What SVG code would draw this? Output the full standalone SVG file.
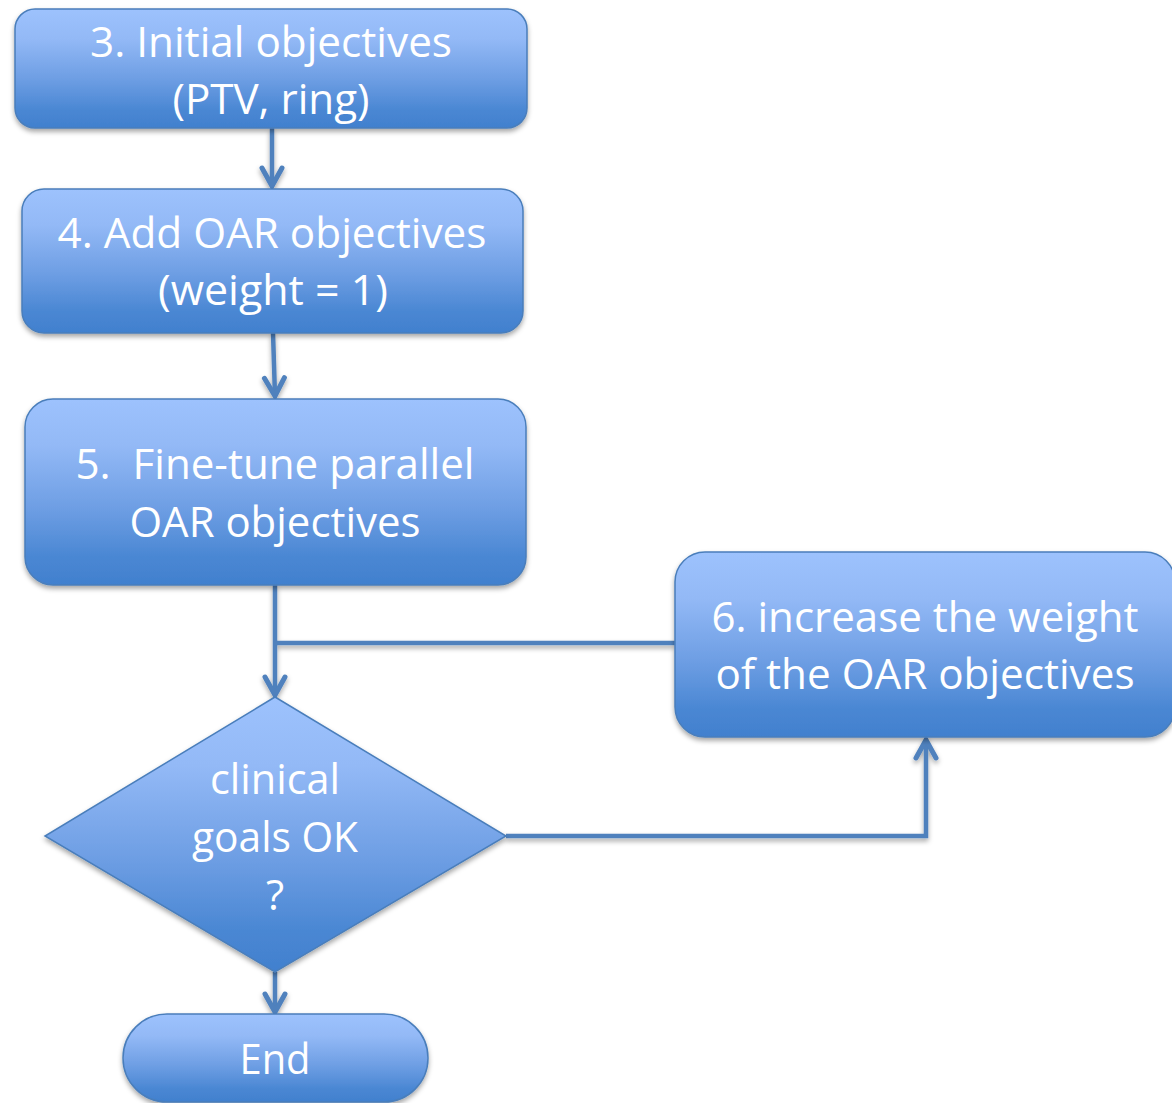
<svg xmlns="http://www.w3.org/2000/svg" width="1172" height="1103" viewBox="0 0 1172 1103">
<defs>
<linearGradient id="g" x1="0" y1="0" x2="0" y2="1">
<stop offset="0" stop-color="#9DC2FD"/>
<stop offset="0.25" stop-color="#93B9F6"/>
<stop offset="0.6" stop-color="#6C9DE3"/>
<stop offset="0.85" stop-color="#4A87D3"/>
<stop offset="1" stop-color="#4180CE"/>
</linearGradient>
<filter id="sh" x="-10%" y="-10%" width="120%" height="130%">
<feDropShadow dx="0" dy="3" stdDeviation="2.5" flood-color="#000" flood-opacity="0.35"/>
</filter>
<marker id="ah" markerUnits="userSpaceOnUse" markerWidth="40" markerHeight="40" refX="0" refY="0" orient="auto" overflow="visible">
<path d="M-18,-10 L0,0 L-18,10" fill="none" stroke="#4F81BD" stroke-width="5" stroke-linecap="round" stroke-linejoin="miter"/>
</marker>
</defs>
<style>
.n{fill:url(#g);stroke:#4A7EBB;stroke-width:1.5;filter:url(#sh)}
.t{font-family:"Open Sans","Noto Sans","DejaVu Sans",sans-serif;font-size:42px;fill:#fff;text-anchor:middle}
.c{fill:none;stroke:#4F81BD;stroke-width:4.5;stroke-linejoin:miter}
</style>
<g id="connectors" filter="url(#sh)">
<path class="c" d="M272,128 L272,186" marker-end="url(#ah)"/>
<path class="c" d="M273,333 L275,396" marker-end="url(#ah)"/>
<path class="c" d="M275,585 L275,695" marker-end="url(#ah)"/>
<path class="c" d="M675,643 L275,643"/>
<path class="c" d="M506,836 L926,836 L926,740" marker-end="url(#ah)"/>
<path class="c" d="M275,972 L275,1012" marker-end="url(#ah)"/>
</g>
<g id="node3">
<rect class="n" x="15" y="9" width="512" height="119" rx="20"/>
<text class="t" x="271" y="57" textLength="362" lengthAdjust="spacingAndGlyphs">3. Initial objectives</text>
<text class="t" x="271" y="114" textLength="197" lengthAdjust="spacingAndGlyphs">(PTV, ring)</text>
</g>
<g id="node4">
<rect class="n" x="22" y="189" width="501" height="144" rx="22"/>
<text class="t" x="272" y="248" textLength="429" lengthAdjust="spacingAndGlyphs">4. Add OAR objectives</text>
<text class="t" x="273" y="305" textLength="230" lengthAdjust="spacingAndGlyphs">(weight = 1)</text>
</g>
<g id="node5">
<rect class="n" x="25" y="399" width="501" height="186" rx="28"/>
<text class="t" x="275" y="479" textLength="399" lengthAdjust="spacingAndGlyphs" xml:space="preserve" style="white-space:pre">5.  Fine-tune parallel</text>
<text class="t" x="275" y="537" textLength="291" lengthAdjust="spacingAndGlyphs">OAR objectives</text>
</g>
<g id="node6">
<rect class="n" x="675" y="552" width="500" height="185" rx="30"/>
<text class="t" x="925" y="632" textLength="427" lengthAdjust="spacingAndGlyphs">6. increase the weight</text>
<text class="t" x="925" y="689" textLength="419" lengthAdjust="spacingAndGlyphs">of the OAR objectives</text>
</g>
<g id="decision">
<path class="n" d="M275,697 L506,836 L275,972 L45,836 Z"/>
<text class="t" x="275" y="794" textLength="130" lengthAdjust="spacingAndGlyphs">clinical</text>
<text class="t" x="275" y="852" textLength="166" lengthAdjust="spacingAndGlyphs">goals OK</text>
<text class="t" x="275" y="910">?</text>
</g>
<g id="end">
<rect class="n" x="123" y="1014" width="305" height="88" rx="44"/>
<text class="t" x="275" y="1074" textLength="71" lengthAdjust="spacingAndGlyphs">End</text>
</g>
</svg>
